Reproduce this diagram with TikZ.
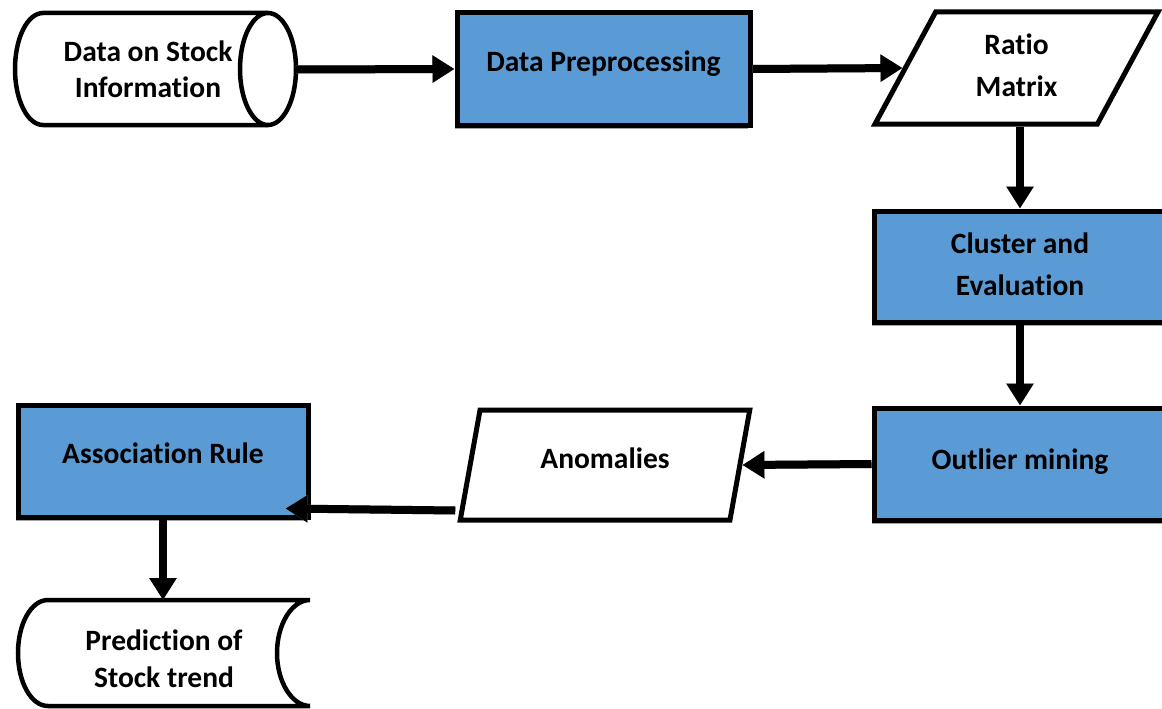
\documentclass[tikz,border=0pt]{standalone}
\usepackage{fontspec}
\setmainfont{Carlito}[Ligatures=NoCommon]
\usetikzlibrary{shapes.geometric,arrows.meta,calc,shadows}
\definecolor{boxblue}{HTML}{5B9BD5}
\definecolor{shadowgray}{HTML}{A6A6A6}
\begin{document}
\begin{tikzpicture}[x=1pt,y=-1pt,
  txt/.style={font=\fontsize{29.5}{42}\selectfont\bfseries, align=center, text=black},
  bluebox/.style={txt, rectangle, draw=black, line width=5pt, fill=boxblue, inner sep=0pt,
    drop shadow={shadow xshift=-2pt, shadow yshift=-4pt, fill=shadowgray, opacity=1}},
  para/.style={txt, trapezium, trapezium left angle=66, trapezium right angle=114,
    trapezium stretches=true, draw=black, line width=5pt, fill=white, inner sep=0pt},
  flow/.style={line width=8pt, draw=black, -{Triangle[length=22pt,width=26pt]}},
  flowshadow/.style={line width=8pt, draw=shadowgray, -{Triangle[length=22pt,width=26pt]}, xshift=-2pt, yshift=-3pt},
  outline/.style={line width=4.5pt, draw=black},
]
\useasboundingbox (0,0) rectangle (1162,709);

% source: horizontal cylinder
\fill[white] (268,13) -- (43,13)
  .. controls (27.5,13) and (15,38) .. (15,69)
  .. controls (15,100) and (27.5,125) .. (43,125) -- (268,125) -- cycle;
\draw[outline] (268,13) -- (43,13)
  .. controls (27.5,13) and (15,38) .. (15,69)
  .. controls (15,100) and (27.5,125) .. (43,125) -- (268,125);
\draw[outline, fill=white] (268,69) ellipse [x radius=28, y radius=56];
\node[txt, minimum width=296pt, minimum height=112pt, inner sep=0pt, outer sep=0pt,
  font=\fontsize{29.5}{36}\selectfont\bfseries] (src) at (148,69.5) {Data on Stock\\Information};

% process and data nodes
\node[bluebox, text height=14pt, text depth=9pt, minimum width=293pt, minimum height=112pt] (pre) at (603.5,69) {Data Preprocessing};
\node[para, text depth=6pt, minimum width=283pt, minimum height=112pt] (ratio) at (1016.5,68) {Ratio\\Matrix};
\node[bluebox, text depth=4pt, minimum width=292pt, minimum height=111pt] (cluster) at (1020,266.5) {Cluster and\\Evaluation};
\node[bluebox, text height=17pt, text depth=6pt, minimum width=292pt, minimum height=112pt] (outlier) at (1020,464) {Outlier mining};
\node[para, text height=15pt, text depth=8pt, minimum width=290pt, minimum height=110pt] (anom) at (605,465) {Anomalies};
\node[bluebox, text height=14pt, text depth=9pt, minimum width=290pt, minimum height=112pt] (assoc) at (163,461) {Association Rule};

% stored-data shape for the prediction
\draw[outline, fill=white]
  (48,600) -- (310,600)
  .. controls (292,600) and (277,624) .. (277,653)
  .. controls (277,682) and (292,706) .. (310,706)
  -- (48,706)
  .. controls (31,706) and (18,682) .. (18,653)
  .. controls (18,624) and (31,600) .. (48,600) -- cycle;
\node[txt, minimum width=292pt, minimum height=118pt, inner sep=0pt, outer sep=0pt,
  font=\fontsize{29.5}{37}\selectfont\bfseries] (pred) at (164,659) {Prediction of\\Stock trend};

% connectors
\draw[flowshadow] (src.east) -- (pre.west);
\draw[flow] (src.east) -- (pre.west);
\draw[flowshadow] (pre.east) -- (ratio.left side);
\draw[flow] (pre.east) -- (ratio.left side);
\draw[flowshadow] (ratio.south -| cluster.north) -- (cluster.north);
\draw[flow] (ratio.south -| cluster.north) -- (cluster.north);
\draw[flowshadow] (cluster.south) -- (outlier.north);
\draw[flow] (cluster.south) -- (outlier.north);
\draw[flowshadow] (outlier.west) -- (anom.right side);
\draw[flow] (outlier.west) -- (anom.right side);
\coordinate (a6s) at ($(anom.bottom left corner)+(-2,-12)$);
\coordinate (a6e) at ($(assoc.south east)+(-25,-11)$);
\draw[flowshadow] (a6s) -- (a6e);
\draw[flow] (a6s) -- (a6e);
\draw[flowshadow] (assoc.south) -- (assoc.south |- pred.north);
\draw[flow] (assoc.south) -- (assoc.south |- pred.north);
\end{tikzpicture}
\end{document}
